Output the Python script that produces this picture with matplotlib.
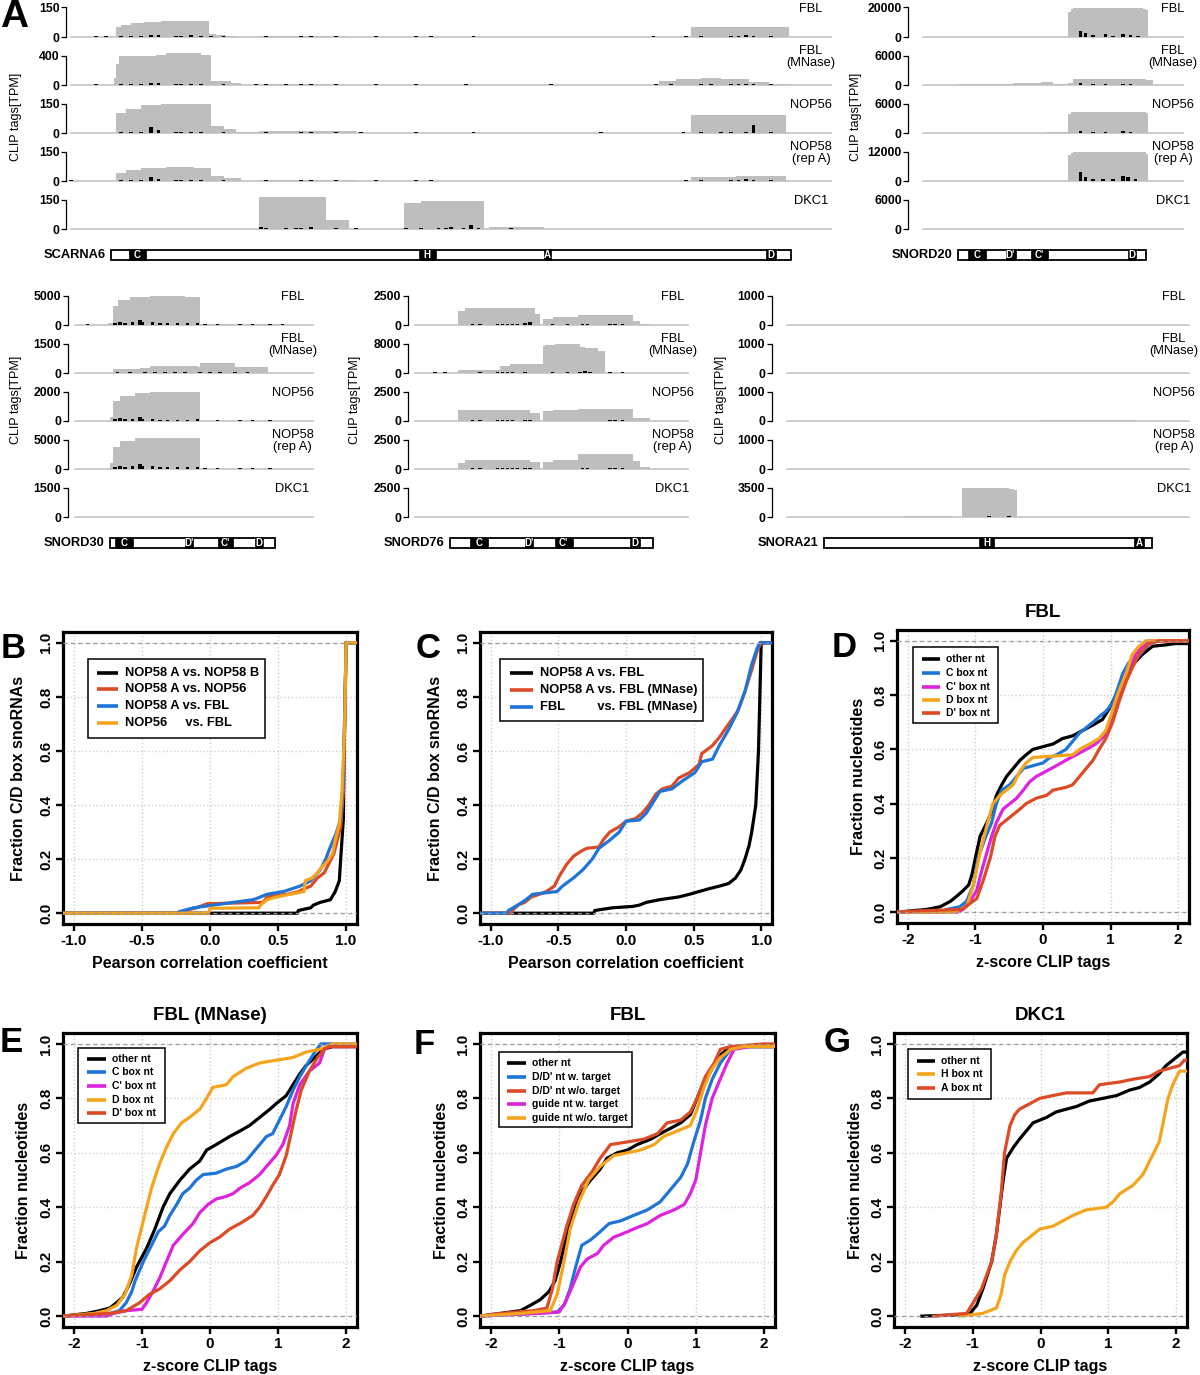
import matplotlib
matplotlib.use('Agg')
import matplotlib.pyplot as plt
from matplotlib.patches import Rectangle
from matplotlib.lines import Line2D

plt.rcParams['font.family'] = 'Liberation Sans'

W, H = 1200, 1375
fig = plt.figure(figsize=(W / 100, H / 100), dpi=100)

# ---------------------------------------------------------------------------
# Panel A data: coverage (step start positions in nt, height in TPM),
# crosslink sites (position, height) and snoRNA box annotation
# ---------------------------------------------------------------------------
track_names = ['FBL', 'FBL\n(MNase)', 'NOP56', 'NOP58\n(rep A)', 'DKC1']

# SCARNA6
s6_ticks = [150, 400, 150, 150, 150]
s6_cov_x = [
    [-16, 2, 4, 8, 13, 20, 39, 42, 46, 50, 59, 75, 94, 232, 240, 262, 271],
    [-16, 1, 2, 3, 18, 22, 36, 40, 48, 52, 58, 92, 219, 226, 236, 244, 255, 263, 272],
    [-16, 2, 6, 12, 20, 32, 40, 45, 50, 59, 98, 232, 270],
    [-16, 2, 6, 12, 22, 33, 40, 45, 52, 59, 98, 232, 250, 270],
    [-16, 59, 86, 95, 117, 124, 149, 151, 173],
]
s6_cov_y = [
    [0, 50, 62, 72, 77, 80, 15, 10, 5, 1, 5, 6, 0, 50, 53, 52, 0],
    [0, 100, 280, 390, 410, 440, 410, 55, 30, 5, 12, 0, 50, 80, 100, 80, 40, 10, 0],
    [0, 100, 120, 140, 150, 145, 35, 22, 4, 10, 0, 90, 0],
    [0, 42, 58, 68, 72, 65, 25, 15, 0, 3, 0, 22, 26, 0],
    [0, 165, 45, 0, 130, 142, 0, 8, 0],
]
s6_xl = [
    [(-6, 4), (-2, 4), (4, 5), (8, 5), (12, 6), (16, 10), (19, 9), (26, 5), (28, 5), (32, 8), (36, 5),
     (40, 4), (45, 4), (62, 5), (76, 4), (80, 4), (90, 4), (106, 3), (122, 3), (128, 3), (145, 3),
     (217, 4), (230, 4), (236, 4), (248, 5), (251, 5), (254, 8), (257, 5), (264, 4)],
    [(-6, 10), (4, 12), (8, 12), (12, 12), (16, 30), (19, 28), (26, 14), (28, 14), (32, 18), (36, 12),
     (45, 10), (58, 10), (62, 12), (70, 10), (76, 12), (80, 12), (90, 10), (106, 8), (122, 8), (142, 8),
     (176, 8), (218, 10), (224, 10), (236, 12), (240, 12), (248, 12), (251, 12), (254, 14), (257, 12), (264, 10)],
    [(4, 4), (8, 4), (12, 5), (16, 28), (19, 14), (26, 5), (28, 5), (32, 6), (36, 5), (45, 4), (62, 5),
     (76, 5), (80, 5), (90, 5), (100, 3), (122, 3), (145, 3), (196, 3), (229, 3), (236, 4), (244, 4),
     (248, 4), (254, 5), (257, 43), (264, 4)],
    [(-16, 3), (4, 4), (8, 4), (12, 5), (16, 22), (19, 12), (26, 5), (28, 5), (32, 6), (36, 5), (45, 4),
     (62, 4), (76, 4), (80, 4), (90, 4), (106, 3), (122, 3), (128, 3), (230, 3), (236, 4), (248, 4),
     (251, 4), (254, 8), (257, 5), (264, 4)],
    [(60, 8), (62, 6), (70, 5), (74, 6), (76, 6), (80, 8), (90, 5), (98, 5), (118, 5), (124, 6), (131, 7),
     (134, 7), (136, 8), (141, 6), (144, 20), (147, 5), (160, 4)],
]
s6_boxes = [(7, 14, 'C'), (123, 130, 'H'), (173, 176, 'A'), (262, 266, 'D')]

# SNORD20
d20_ticks = [20000, 6000, 6000, 12000, 6000]
d20_cov_x = [
    [-14, 44, 45, 46, 74, 75, 76],
    [-14, 0, 22, 33, 38, 44, 46, 75, 78],
    [-14, 15, 35, 44, 45, 75, 76],
    [-14, 44, 45, 46, 74, 75, 76],
    [-14, 89],
]
d20_cov_y = [
    [0, 17000, 19000, 19500, 19200, 18000, 0],
    [0, 280, 500, 700, 150, 500, 1200, 1000, 0],
    [0, 80, 120, 3800, 4300, 4100, 0],
    [0, 10500, 11500, 11800, 11600, 11000, 0],
    [0, 0],
]
d20_xl = [
    [(-3, 300), (5, 300), (9, 300), (16, 300), (20, 300), (28, 300), (33, 300), (38, 300), (49, 4000),
     (51, 2500), (54, 1200), (59, 2000), (62, 1000), (66, 1800), (69, 1300), (72, 800)],
    [(-3, 80), (5, 80), (9, 80), (16, 80), (20, 80), (28, 80), (33, 80), (38, 80), (49, 400), (54, 200),
     (59, 200), (66, 200), (69, 150)],
    [(-3, 60), (5, 60), (16, 60), (28, 60), (33, 60), (38, 60), (49, 400), (54, 200), (59, 200), (66, 350),
     (69, 200)],
    [(-3, 200), (5, 200), (9, 200), (16, 200), (20, 200), (28, 200), (33, 200), (38, 200), (49, 3700),
     (51, 1500), (54, 800), (58, 800), (62, 800), (66, 2000), (68, 1500), (71, 800)],
    [(30, 100)],
]
d20_boxes = [(4, 11, 'C'), (19, 23, "D'"), (29, 36, "C'"), (68, 71, 'D')]

# SNORD30
d30_ticks = [5000, 1500, 2000, 5000, 1500]
d30_cov_x = [
    [-14, -1, 1, 3, 8, 16, 30, 36, 60, 69],
    [-14, 1, 12, 16, 35, 36, 44, 50, 63],
    [-14, 0, 1, 4, 10, 16, 36],
    [-14, 0, 1, 4, 10, 16, 36],
    [-14, 81],
]
d30_cov_y = [
    [0, 300, 3300, 4200, 4700, 4900, 4800, 200, 150, 0],
    [0, 190, 250, 350, 300, 520, 500, 290, 0],
    [0, 300, 1350, 1700, 1900, 1950, 0],
    [0, 1000, 3800, 4800, 5200, 5300, 0],
    [0, 0],
]
d30_xl = [
    [(-9, 100), (2, 400), (4, 500), (6, 400), (9, 500), (12, 800), (13, 500), (17, 500), (20, 300),
     (23, 300), (27, 300), (31, 300), (35, 400), (38, 100), (43, 100), (52, 100), (57, 100), (64, 100), (69, 100)],
    [(-17, 20), (-4, 20), (3, 30), (8, 30), (14, 30), (18, 40), (22, 30), (26, 30), (30, 30), (36, 40),
     (40, 50), (44, 30), (50, 30), (55, 30), (60, 20)],
    [(2, 150), (4, 200), (6, 150), (9, 150), (12, 250), (13, 150), (17, 150), (20, 100), (23, 100),
     (27, 100), (31, 100), (35, 150), (43, 40), (52, 40), (57, 40), (64, 40)],
    [(2, 400), (4, 500), (6, 400), (9, 500), (12, 900), (13, 500), (17, 500), (20, 300), (23, 300),
     (27, 300), (31, 300), (35, 400), (38, 100), (43, 100), (52, 100), (57, 100), (64, 100)],
    [(9, 20), (13, 20), (18, 20), (29, 20)],
]
d30_boxes = [(2, 9, 'C'), (30, 33, "D'"), (43, 49, "C'"), (58, 61, 'D')]

# SNORD76
d76_ticks = [2500, 8000, 2500, 2500, 2500]
d76_cov_x = [
    [-14, 3, 6, 34, 36, 37, 41, 51, 73, 76, 80],
    [-14, 3, 20, 24, 37, 38, 42, 52, 54, 59, 62],
    [-14, 3, 32, 36, 37, 41, 51, 73, 80],
    [-14, 3, 6, 32, 36, 37, 41, 51, 73, 76, 80],
    [-14, 95],
]
d76_cov_y = [
    [0, 1150, 1400, 900, 0, 500, 700, 850, 300, 100, 0],
    [0, 900, 2000, 2500, 7200, 7700, 7800, 7000, 6800, 6000, 0],
    [0, 900, 700, 0, 850, 950, 1050, 250, 0],
    [0, 550, 800, 600, 0, 600, 750, 1250, 700, 200, 0],
    [0, 0],
]
d76_xl = [
    [(9, 60), (12, 60), (19, 80), (21, 80), (23, 80), (25, 80), (27, 80), (30, 150), (32, 250), (41, 50),
     (47, 50), (53, 60), (55, 60), (64, 60), (66, 80), (69, 60)],
    [(-6, 150), (-2, 150), (12, 200), (19, 250), (21, 250), (23, 250), (25, 250), (30, 250), (41, 250),
     (47, 250), (52, 400), (54, 500), (56, 400), (64, 200), (69, 200)],
    [(9, 50), (12, 50), (19, 60), (21, 60), (23, 60), (25, 60), (30, 60), (32, 80), (41, 40), (47, 40),
     (53, 40), (55, 40), (64, 50), (66, 60), (69, 50), (78, 30)],
    [(-4, 30), (9, 50), (12, 50), (19, 80), (21, 80), (23, 80), (25, 80), (27, 80), (30, 100), (32, 120),
     (41, 40), (47, 40), (53, 60), (55, 60), (64, 80), (66, 120), (69, 80), (79, 30)],
    [],
]
d76_boxes = [(8, 15, 'C'), (30, 33, "D'"), (42, 49, "C'"), (72, 76, 'D')]

# SNORA21
a21_ticks = [1000, 1000, 1000, 1000, 3500]
a21_cov_x = [
    [-15, 88, 124],
    [-15, 50, 75, 146],
    [-15, 86, 125],
    [-15, 146],
    [-15, -8, 14, 32, 51, 55, 74, 76, 77],
]
a21_cov_y = [
    [0, 8, 0],
    [0, 10, 0, 0],
    [0, 35, 0],
    [0, 0],
    [0, 40, 0, 60, 0, 3450, 3350, 3200, 0],
]
a21_xl = [
    [(40, 8), (90, 8), (98, 8), (106, 8), (110, 8), (114, 8), (122, 8)],
    [(8, 12), (17, 12), (20, 12), (26, 12), (29, 12), (32, 12), (34, 12), (37, 12), (41, 12), (43, 12),
     (50, 12), (66, 12), (74, 12), (79, 12), (81, 12), (85, 12), (90, 12), (97, 12), (101, 12), (105, 12),
     (109, 12), (118, 12), (122, 12)],
    [(5, 12), (74, 12), (80, 12), (90, 12), (97, 12), (101, 12), (105, 12), (109, 12), (113, 12), (118, 12),
     (124, 12)],
    [(21, 12), (33, 12), (41, 12), (50, 12), (66, 12), (80, 12), (98, 12), (102, 12), (106, 12), (121, 12),
     (123, 12)],
    [(-1, 40), (7, 40), (8, 40), (36, 40), (41, 40), (43, 40), (50, 40), (66, 110), (74, 60), (78, 40),
     (114, 40), (118, 40)],
]
a21_boxes = [(62, 68, 'H'), (124, 128, 'A')]

# ---------------------------------------------------------------------------
# Panels B-G data: cumulative distributions (x, fraction)
# ---------------------------------------------------------------------------
b_a_vs_b = [(-1.08, 0), (0.64, 0), (0.65, 0.01), (0.74, 0.02), (0.76, 0.03), (0.81, 0.04), (0.885, 0.05),
            (0.92, 0.08), (0.95, 0.12), (0.96, 0.2), (0.98, 0.35), (0.985, 0.6), (0.993, 0.8), (1.0, 1.0), (1.08, 1.0)]
b_a_vs_56 = [(-1.08, 0), (-0.19, 0), (-0.18, 0.01), (-0.1, 0.02), (-0.02, 0.035), (0.39, 0.04), (0.42, 0.06),
             (0.47, 0.065), (0.57, 0.07), (0.65, 0.08), (0.69, 0.09), (0.74, 0.1), (0.79, 0.13), (0.84, 0.15),
             (0.87, 0.18), (0.91, 0.22), (0.935, 0.27), (0.96, 0.32), (0.98, 0.45), (0.99, 0.7), (1.0, 1.0), (1.08, 1.0)]
b_a_vs_fbl = [(-1.08, 0), (-0.24, 0), (-0.23, 0.005), (-0.12, 0.02), (0.03, 0.03), (0.17, 0.04), (0.32, 0.05),
              (0.42, 0.07), (0.54, 0.08), (0.66, 0.1), (0.74, 0.12), (0.81, 0.16), (0.85, 0.2), (0.88, 0.24),
              (0.93, 0.3), (0.96, 0.35), (0.98, 0.5), (0.99, 0.75), (1.0, 1.0), (1.08, 1.0)]
b_56_vs_fbl = [(-1.08, 0), (-0.01, 0), (0.0, 0.018), (0.36, 0.02), (0.37, 0.03), (0.42, 0.05), (0.49, 0.06),
               (0.59, 0.07), (0.69, 0.08), (0.7, 0.12), (0.75, 0.13), (0.79, 0.15), (0.82, 0.17), (0.86, 0.19),
               (0.9, 0.22), (0.92, 0.27), (0.95, 0.33), (0.97, 0.45), (0.99, 0.7), (1.0, 1.0), (1.08, 1.0)]

c_a_vs_fbl = [(-1.08, 0), (-0.24, 0), (-0.23, 0.01), (-0.1, 0.02), (0.05, 0.025), (0.1, 0.03), (0.15, 0.04),
              (0.25, 0.05), (0.39, 0.06), (0.47, 0.07), (0.54, 0.08), (0.61, 0.09), (0.69, 0.1), (0.76, 0.11),
              (0.81, 0.13), (0.85, 0.16), (0.88, 0.2), (0.91, 0.25), (0.93, 0.3), (0.96, 0.4), (0.98, 0.6),
              (0.99, 0.8), (1.0, 1.0), (1.08, 1.0)]
c_a_vs_mn = [(-1.08, 0), (-0.85, 0), (-0.84, 0.01), (-0.8, 0.03), (-0.75, 0.04), (-0.7, 0.06), (-0.64, 0.07),
             (-0.59, 0.08), (-0.53, 0.1), (-0.49, 0.14), (-0.44, 0.18), (-0.39, 0.21), (-0.33, 0.23),
             (-0.29, 0.24), (-0.2, 0.245), (-0.17, 0.27), (-0.12, 0.3), (-0.05, 0.32), (0.0, 0.34), (0.07, 0.35),
             (0.12, 0.37), (0.17, 0.4), (0.22, 0.44), (0.27, 0.46), (0.34, 0.47), (0.39, 0.5), (0.47, 0.52),
             (0.54, 0.55), (0.56, 0.59), (0.64, 0.62), (0.69, 0.65), (0.76, 0.7), (0.83, 0.75), (0.88, 0.82),
             (0.93, 0.9), (0.97, 0.97), (1.0, 1.0), (1.08, 1.0)]
c_fbl_vs_mn = [(-1.08, 0), (-0.88, 0), (-0.87, 0.01), (-0.8, 0.03), (-0.74, 0.05), (-0.69, 0.07), (-0.51, 0.08),
               (-0.47, 0.1), (-0.39, 0.13), (-0.32, 0.16), (-0.25, 0.2), (-0.2, 0.24), (-0.12, 0.27),
               (-0.05, 0.3), (0.0, 0.34), (0.1, 0.345), (0.15, 0.37), (0.2, 0.41), (0.25, 0.45), (0.34, 0.46),
               (0.42, 0.49), (0.51, 0.52), (0.56, 0.56), (0.64, 0.57), (0.69, 0.62), (0.76, 0.68), (0.82, 0.74),
               (0.88, 0.82), (0.93, 0.92), (0.97, 0.98), (0.99, 1.0), (1.08, 1.0)]

d_other = [(-2.16, 0), (-1.72, 0.01), (-1.52, 0.02), (-1.37, 0.04), (-1.27, 0.06), (-1.18, 0.08), (-1.1, 0.1),
           (-1.05, 0.14), (-1.0, 0.2), (-0.93, 0.28), (-0.83, 0.33), (-0.76, 0.37), (-0.69, 0.43), (-0.61, 0.47),
           (-0.54, 0.5), (-0.44, 0.53), (-0.34, 0.56), (-0.25, 0.58), (-0.15, 0.6), (0.0, 0.61), (0.15, 0.62),
           (0.29, 0.64), (0.44, 0.65), (0.59, 0.67), (0.74, 0.69), (0.88, 0.71), (0.98, 0.75), (1.08, 0.8),
           (1.23, 0.86), (1.32, 0.91), (1.47, 0.95), (1.62, 0.98), (1.81, 0.985), (1.96, 0.99), (2.16, 0.99)]
d_cbox = [(-2.16, 0), (-1.52, 0), (-1.42, 0.01), (-1.23, 0.02), (-1.13, 0.04), (-1.03, 0.1), (-0.96, 0.2),
          (-0.86, 0.27), (-0.76, 0.33), (-0.69, 0.4), (-0.61, 0.45), (-0.49, 0.47), (-0.39, 0.5), (-0.29, 0.53),
          (0.0, 0.55), (0.1, 0.57), (0.2, 0.58), (0.34, 0.6), (0.44, 0.63), (0.54, 0.66), (0.64, 0.68),
          (0.74, 0.7), (0.83, 0.72), (0.93, 0.74), (1.03, 0.77), (1.1, 0.82), (1.18, 0.88), (1.27, 0.92),
          (1.37, 0.93), (1.47, 0.96), (1.57, 0.99), (1.72, 1.0), (2.16, 1.0)]
d_cpbox = [(-2.16, 0), (-1.27, 0), (-1.18, 0.01), (-1.08, 0.04), (-0.98, 0.08), (-0.91, 0.15), (-0.83, 0.22),
           (-0.76, 0.28), (-0.69, 0.33), (-0.59, 0.38), (-0.49, 0.4), (-0.39, 0.42), (-0.29, 0.45), (-0.2, 0.48),
           (-0.1, 0.5), (0.05, 0.52), (0.2, 0.54), (0.34, 0.56), (0.49, 0.58), (0.64, 0.6), (0.78, 0.62),
           (0.91, 0.65), (1.0, 0.7), (1.1, 0.77), (1.2, 0.84), (1.27, 0.9), (1.37, 0.95), (1.47, 0.98),
           (1.57, 1.0), (2.16, 1.0)]
d_dbox = [(-2.16, 0), (-1.32, 0), (-1.23, 0.01), (-1.13, 0.02), (-1.03, 0.1), (-0.93, 0.22), (-0.83, 0.32),
          (-0.74, 0.4), (-0.64, 0.43), (-0.44, 0.47), (-0.34, 0.52), (-0.25, 0.55), (-0.15, 0.57), (0.44, 0.58),
          (0.54, 0.6), (0.69, 0.62), (0.83, 0.64), (0.93, 0.67), (1.0, 0.72), (1.1, 0.8), (1.23, 0.88),
          (1.32, 0.95), (1.42, 0.98), (1.52, 1.0), (2.16, 1.0)]
d_dpbox = [(-2.16, 0), (-1.8, 0.005), (-1.2, 0.01), (-0.98, 0.05), (-0.88, 0.12), (-0.78, 0.2), (-0.71, 0.28),
           (-0.64, 0.32), (-0.54, 0.34), (-0.44, 0.36), (-0.34, 0.38), (-0.25, 0.4), (-0.1, 0.42), (0.05, 0.43),
           (0.15, 0.45), (0.34, 0.46), (0.44, 0.47), (0.54, 0.5), (0.64, 0.53), (0.74, 0.56), (0.83, 0.6),
           (0.93, 0.64), (1.03, 0.7), (1.13, 0.78), (1.23, 0.85), (1.32, 0.9), (1.42, 0.95), (1.57, 0.99),
           (1.72, 1.0), (2.16, 1.0)]

e_other = [(-2.16, 0), (-1.81, 0.01), (-1.62, 0.02), (-1.47, 0.03), (-1.37, 0.05), (-1.28, 0.07), (-1.18, 0.12),
           (-1.08, 0.18), (-0.93, 0.25), (-0.81, 0.32), (-0.69, 0.4), (-0.59, 0.45), (-0.44, 0.5), (-0.3, 0.54),
           (-0.15, 0.57), (-0.05, 0.61), (0.09, 0.63), (0.29, 0.66), (0.44, 0.68), (0.58, 0.7), (0.73, 0.73),
           (0.88, 0.76), (0.97, 0.78), (1.12, 0.81), (1.22, 0.85), (1.32, 0.89), (1.41, 0.92), (1.54, 0.95),
           (1.66, 0.98), (1.8, 0.99), (2.16, 0.99)]
e_cbox = [(-2.16, 0), (-1.47, 0.01), (-1.33, 0.02), (-1.23, 0.05), (-1.15, 0.09), (-1.1, 0.13), (-0.98, 0.2),
          (-0.86, 0.26), (-0.76, 0.31), (-0.67, 0.33), (-0.59, 0.37), (-0.49, 0.41), (-0.4, 0.45), (-0.3, 0.47),
          (-0.2, 0.5), (-0.1, 0.52), (0.09, 0.525), (0.24, 0.54), (0.39, 0.55), (0.53, 0.57), (0.63, 0.6),
          (0.73, 0.63), (0.83, 0.66), (0.92, 0.67), (1.02, 0.72), (1.12, 0.77), (1.22, 0.83), (1.32, 0.88),
          (1.44, 0.93), (1.54, 0.97), (1.63, 1.0), (2.16, 1.0)]
e_cpbox = [(-2.16, 0), (-1.52, 0), (-1.42, 0.01), (-1.23, 0.02), (-1.0, 0.025), (-0.93, 0.05), (-0.84, 0.09),
           (-0.74, 0.14), (-0.64, 0.2), (-0.54, 0.26), (-0.4, 0.3), (-0.25, 0.34), (-0.15, 0.38), (-0.03, 0.41),
           (0.09, 0.43), (0.24, 0.44), (0.34, 0.45), (0.44, 0.47), (0.58, 0.49), (0.73, 0.52), (0.83, 0.55),
           (0.97, 0.59), (1.07, 0.63), (1.17, 0.7), (1.22, 0.78), (1.32, 0.85), (1.46, 0.9), (1.61, 0.93),
           (1.68, 0.98), (1.75, 0.99), (2.16, 0.99)]
e_dbox = [(-2.16, 0), (-1.7, 0.01), (-1.52, 0.02), (-1.37, 0.04), (-1.25, 0.08), (-1.15, 0.15), (-1.08, 0.25),
          (-0.98, 0.35), (-0.86, 0.47), (-0.74, 0.56), (-0.64, 0.62), (-0.54, 0.67), (-0.42, 0.71), (-0.3, 0.73),
          (-0.15, 0.76), (-0.05, 0.8), (0.04, 0.84), (0.24, 0.85), (0.34, 0.88), (0.53, 0.91), (0.73, 0.93),
          (0.97, 0.94), (1.22, 0.95), (1.41, 0.97), (1.61, 0.98), (1.8, 1.0), (2.16, 1.0)]
e_dpbox = [(-2.16, 0), (-1.47, 0.01), (-1.23, 0.02), (-1.03, 0.05), (-0.89, 0.08), (-0.74, 0.1), (-0.59, 0.13),
           (-0.44, 0.17), (-0.3, 0.2), (-0.15, 0.24), (0.0, 0.27), (0.14, 0.29), (0.29, 0.32), (0.44, 0.34),
           (0.63, 0.37), (0.73, 0.4), (0.83, 0.44), (0.92, 0.48), (1.02, 0.52), (1.12, 0.59), (1.19, 0.67),
           (1.26, 0.75), (1.34, 0.83), (1.46, 0.9), (1.58, 0.95), (1.68, 0.98), (1.75, 0.99), (2.16, 0.99)]

f_other = [(-2.16, 0), (-1.86, 0.01), (-1.57, 0.02), (-1.42, 0.04), (-1.28, 0.06), (-1.15, 0.09), (-1.06, 0.13),
           (-0.98, 0.2), (-0.89, 0.3), (-0.79, 0.38), (-0.69, 0.45), (-0.54, 0.5), (-0.4, 0.54), (-0.3, 0.58),
           (-0.15, 0.6), (0.0, 0.61), (0.14, 0.63), (0.34, 0.65), (0.48, 0.67), (0.63, 0.69), (0.78, 0.71),
           (0.92, 0.74), (1.02, 0.8), (1.12, 0.86), (1.22, 0.9), (1.32, 0.95), (1.46, 0.98), (1.71, 0.99), (2.16, 0.99)]
f_dd_w = [(-2.16, 0), (-1.37, 0.01), (-1.03, 0.015), (-0.93, 0.04), (-0.84, 0.1), (-0.76, 0.18), (-0.67, 0.26),
          (-0.54, 0.28), (-0.4, 0.31), (-0.27, 0.34), (-0.1, 0.35), (0.09, 0.37), (0.29, 0.39), (0.48, 0.42),
          (0.58, 0.45), (0.68, 0.48), (0.78, 0.51), (0.88, 0.56), (0.97, 0.64), (1.07, 0.72), (1.14, 0.8),
          (1.24, 0.87), (1.36, 0.93), (1.51, 0.98), (1.7, 0.99), (2.16, 0.99)]
f_dd_wo = [(-2.16, 0), (-1.86, 0.01), (-1.37, 0.02), (-1.18, 0.03), (-1.1, 0.1), (-1.03, 0.2), (-0.89, 0.33),
           (-0.79, 0.41), (-0.67, 0.48), (-0.52, 0.53), (-0.4, 0.58), (-0.25, 0.63), (0.0, 0.64), (0.24, 0.65),
           (0.44, 0.67), (0.58, 0.71), (0.78, 0.72), (0.92, 0.75), (1.02, 0.8), (1.14, 0.88), (1.27, 0.93),
           (1.36, 0.98), (1.51, 0.99), (1.99, 1.0), (2.16, 1.0)]
f_guide_w = [(-2.16, 0), (-1.32, 0.01), (-1.0, 0.015), (-0.91, 0.05), (-0.79, 0.12), (-0.69, 0.18), (-0.59, 0.21),
             (-0.44, 0.23), (-0.35, 0.26), (-0.2, 0.29), (0.0, 0.31), (0.09, 0.32), (0.29, 0.34), (0.48, 0.37),
             (0.68, 0.39), (0.83, 0.41), (0.92, 0.45), (1.0, 0.5), (1.07, 0.6), (1.14, 0.7), (1.24, 0.8),
             (1.34, 0.86), (1.46, 0.93), (1.56, 0.98), (1.8, 0.99), (2.16, 0.99)]
f_guide_wo = [(-2.16, 0), (-1.57, 0.01), (-1.13, 0.02), (-1.03, 0.08), (-0.93, 0.2), (-0.84, 0.32), (-0.71, 0.42),
              (-0.57, 0.5), (-0.4, 0.55), (-0.2, 0.59), (0.0, 0.6), (0.19, 0.61), (0.39, 0.63), (0.53, 0.66),
              (0.73, 0.68), (0.92, 0.7), (1.02, 0.76), (1.12, 0.84), (1.22, 0.9), (1.36, 0.95), (1.51, 0.98),
              (1.7, 0.99), (2.16, 0.99)]

g_other = [(-1.75, 0), (-1.14, 0.005), (-1.04, 0.01), (-0.94, 0.04), (-0.85, 0.1), (-0.72, 0.2), (-0.65, 0.3),
           (-0.6, 0.4), (-0.55, 0.5), (-0.5, 0.58), (-0.4, 0.62), (-0.31, 0.65), (-0.21, 0.68), (-0.11, 0.71),
           (-0.01, 0.72), (0.09, 0.73), (0.23, 0.75), (0.38, 0.76), (0.53, 0.77), (0.72, 0.79), (0.92, 0.8),
           (1.12, 0.81), (1.31, 0.83), (1.46, 0.84), (1.61, 0.86), (1.75, 0.89), (1.85, 0.92), (2.0, 0.95),
           (2.1, 0.97), (2.16, 0.97)]
g_hbox = [(-1.19, 0), (-0.85, 0.01), (-0.65, 0.03), (-0.58, 0.08), (-0.53, 0.15), (-0.45, 0.2), (-0.36, 0.24),
          (-0.26, 0.27), (-0.11, 0.3), (-0.01, 0.32), (0.18, 0.33), (0.33, 0.35), (0.48, 0.37), (0.67, 0.39),
          (0.97, 0.4), (1.07, 0.42), (1.17, 0.45), (1.36, 0.48), (1.51, 0.52), (1.61, 0.57), (1.75, 0.64),
          (1.8, 0.7), (1.88, 0.8), (1.95, 0.85), (2.05, 0.9), (2.16, 0.9)]
g_abox = [(-1.58, 0), (-1.09, 0.01), (-0.99, 0.05), (-0.87, 0.1), (-0.72, 0.2), (-0.65, 0.3), (-0.58, 0.45),
          (-0.53, 0.6), (-0.45, 0.7), (-0.38, 0.74), (-0.31, 0.76), (-0.16, 0.78), (-0.01, 0.8), (0.18, 0.81),
          (0.38, 0.82), (0.77, 0.82), (0.87, 0.85), (1.17, 0.86), (1.36, 0.87), (1.61, 0.88), (1.75, 0.9),
          (1.9, 0.91), (2.05, 0.92), (2.12, 0.94), (2.16, 0.94)]

BLACK = '#000000'
RED = '#DC4A26'
BLUE = '#1F74D8'
ORANGE = '#F5A51C'
MAGENTA = '#DE22DE'
GREY_FILL = '#BEBEBE'

PX_PER_NT = 2.5
TRACK_STEP = 48
TRACK_H = 32


def add_px_axes(x0, y0, x1, y1):
    return fig.add_axes([x0 / W, 1 - y1 / H, (x1 - x0) / W, (y1 - y0) / H])


def draw_group(name, gene_px, zero0, xlim, trange, label_nt, ticks, cov_x, cov_y, xls,
               boxes, gene_len, bar_y, ylab_xy):
    x0 = gene_px + xlim[0] * PX_PER_NT
    x1 = gene_px + xlim[1] * PX_PER_NT
    for i in range(5):
        zero = zero0 + TRACK_STEP * i
        ax = add_px_axes(x0, zero - TRACK_H, x1, zero)
        # ylim so that the top tick sits a few px below the track top
        top = ticks[i] * TRACK_H / 29.5
        ax.set_xlim(xlim)
        ax.set_ylim(0, top)
        ax.patch.set_visible(False)
        ax.plot(trange, [0, 0], color='#C8C8C8', lw=1.3, zorder=1, clip_on=False)
        ax.fill_between(cov_x[i], cov_y[i], step='post', color=GREY_FILL, lw=0, zorder=2, clip_on=False)
        if xls[i]:
            pos, h = zip(*xls[i])
            ax.bar(pos, h, width=1.3, color='black', zorder=3, clip_on=False)
        for s in ['top', 'right', 'bottom']:
            ax.spines[s].set_visible(False)
        ax.spines['left'].set_bounds(0, ticks[i])
        ax.spines['left'].set_linewidth(0.9)
        ax.set_xticks([])
        ax.set_yticks([0, ticks[i]])
        ax.set_yticklabels(['0', str(ticks[i])], fontsize=8.8, fontweight='bold')
        ax.tick_params(axis='y', length=3.5, width=0.9, pad=1)
        ax.text(label_nt, 0.875, track_names[i], transform=ax.get_xaxis_transform(),
                ha='center', va='center', fontsize=9.3, linespacing=0.95, multialignment='center')
    # snoRNA annotation bar
    gax = add_px_axes(x0, bar_y[0], x1, bar_y[1])
    gax.set_xlim(xlim)
    gax.set_ylim(0, 1)
    gax.axis('off')
    gax.add_patch(Rectangle((0, 0), gene_len, 1, fc='white', ec='black', lw=1.3, clip_on=False))
    for b0, b1, lab in boxes:
        gax.add_patch(Rectangle((b0, 0), b1 - b0, 1, fc='black', ec='black', lw=0.5, clip_on=False))
        gax.text((b0 + b1) / 2, 0.45, lab, ha='center', va='center', color='white',
                 fontsize=7, fontweight='bold')
    gax.text(-2.2, 0.5, name, ha='right', va='center', fontsize=9.3, fontweight='bold')
    fig.text(ylab_xy[0] / W, 1 - ylab_xy[1] / H, 'CLIP tags[TPM]', rotation=90,
             ha='center', va='center', fontsize=9)


draw_group('SCARNA6', 111, 37, (-18, 288), (-16, 288), 280, s6_ticks, s6_cov_x, s6_cov_y, s6_xl,
           s6_boxes, 272, (250, 260), (16, 117))
draw_group('SNORD20', 958, 37, (-20, 90), (-14, 90), 86, d20_ticks, d20_cov_x, d20_cov_y, d20_xl,
           d20_boxes, 75, (250, 260), (856, 117))
draw_group('SNORD30', 110, 325, (-17, 81), (-14, 81), 73, d30_ticks, d30_cov_x, d30_cov_y, d30_xl,
           d30_boxes, 66, (538, 548), (16, 400))
draw_group('SNORD76', 450, 325, (-17, 95), (-14, 95), 89, d76_ticks, d76_cov_x, d76_cov_y, d76_xl,
           d76_boxes, 81, (538, 548), (355, 400))
draw_group('SNORA21', 824, 325, (-21, 146), (-15, 146), 140, a21_ticks, a21_cov_x, a21_cov_y, a21_xl,
           a21_boxes, 131, (538, 548), (721, 400))


# ---------------------------------------------------------------------------
# cumulative distribution panels
# ---------------------------------------------------------------------------
def cdf_panel(box, xlim, xticks, xticklabels, xlabel, ylabel, ylab_dx, title=None):
    ax = add_px_axes(*box)
    bw, bh = box[2] - box[0], box[3] - box[1]
    ax.set_xlim(xlim)
    ax.set_ylim(-0.04, 1.04)
    ax.set_xticks(xticks)
    ax.set_xticklabels(xticklabels, fontsize=11, fontweight='bold')
    ax.set_yticks([0, 0.2, 0.4, 0.6, 0.8, 1.0])
    ax.set_yticklabels(['0.0', '0.2', '0.4', '0.6', '0.8', '1.0'], rotation=90, va='center',
                       fontsize=11, fontweight='bold')
    ax.tick_params(direction='out', length=5, width=1.7, pad=2)
    for s in ax.spines.values():
        s.set_linewidth(2.3)
    ax.grid(True, color='#CFCFCF', ls=':', lw=1)
    ax.set_axisbelow(True)
    for yy in (0, 1):
        ax.axhline(yy, color='#9A9A9A', ls=(0, (3, 3)), lw=0.9, zorder=5)
    ax.text(0.5, -39 / bh, xlabel, transform=ax.transAxes, ha='center', va='center',
            fontsize=11.5, fontweight='bold')
    ax.text(-ylab_dx / bw, 0.5, ylabel, transform=ax.transAxes, rotation=90, ha='center',
            va='center', fontsize=11.5, fontweight='bold')
    if title:
        ax.text(0.5, 1 + 17 / bh, title, transform=ax.transAxes, ha='center', va='center',
                fontsize=13.5, fontweight='bold')
    return ax


def curve(ax, pts, color):
    xs, ys = zip(*pts)
    ax.plot(xs, ys, color=color, lw=2.3, zorder=3, solid_joinstyle='miter')


def legend_px(box, line_x, text_x, ys, labels, colors, fs):
    x0, y0, x1, y1 = box
    fig.add_artist(Rectangle((x0 / W, 1 - y1 / H), (x1 - x0) / W, (y1 - y0) / H,
                             transform=fig.transFigure, fc='white', ec='black', lw=1.1, zorder=20))
    for y, lab, c in zip(ys, labels, colors):
        fig.add_artist(Line2D([line_x[0] / W, line_x[1] / W], [1 - y / H, 1 - y / H],
                              transform=fig.transFigure, color=c, lw=2.6, zorder=21,
                              solid_capstyle='butt'))
        fig.text(text_x / W, 1 - y / H, lab, ha='left', va='center', fontsize=fs,
                 fontweight='bold', zorder=22)


r_ticks = [-1.0, -0.5, 0.0, 0.5, 1.0]
r_labels = ['-1.0', '-0.5', '0.0', '0.5', '1.0']
z_ticks = [-2, -1, 0, 1, 2]
z_labels = ['-2', '-1', '0', '1', '2']

# B
ax = cdf_panel((63, 632, 357, 924), (-1.08, 1.08), r_ticks, r_labels,
               'Pearson correlation coefficient', 'Fraction C/D box snoRNAs', 44)
for pts, c in [(b_a_vs_b, BLACK), (b_a_vs_56, RED), (b_a_vs_fbl, BLUE), (b_56_vs_fbl, ORANGE)]:
    curve(ax, pts, c)
legend_px((88, 659, 265, 738), (97, 118), 125, [672.7, 689.3, 706, 723.3],
          ['NOP58 A vs. NOP58 B', 'NOP58 A vs. NOP56', 'NOP58 A vs. FBL', 'NOP56     vs. FBL'],
          [BLACK, RED, BLUE, ORANGE], 9.3)

# C
ax = cdf_panel((480, 632, 772, 924), (-1.08, 1.08), r_ticks, r_labels,
               'Pearson correlation coefficient', 'Fraction C/D box snoRNAs', 44)
for pts, c in [(c_a_vs_fbl, BLACK), (c_a_vs_mn, RED), (c_fbl_vs_mn, BLUE)]:
    curve(ax, pts, c)
legend_px((500, 659, 703, 721), (510, 533), 540, [672.7, 690, 706.7],
          ['NOP58 A vs. FBL', 'NOP58 A vs. FBL (MNase)', 'FBL         vs. FBL (MNase)'],
          [BLACK, RED, BLUE], 9.3)

box_labels = ['other nt', 'C box nt', "C' box nt", 'D box nt', "D' box nt"]
box_colors = [BLACK, BLUE, MAGENTA, ORANGE, RED]

# D
ax = cdf_panel((897, 630, 1189, 923), (-2.16, 2.16), z_ticks, z_labels,
               'z-score CLIP tags', 'Fraction nucleotides', 39, 'FBL')
for pts, c in zip([d_other, d_cbox, d_cpbox, d_dbox, d_dpbox], box_colors):
    curve(ax, pts, c)
legend_px((913, 647, 998, 723), (921.7, 940), 946, [659.3, 672.7, 686.7, 700, 713.3],
          box_labels, box_colors, 7.5)

# E
ax = cdf_panel((63, 1033, 357, 1327), (-2.16, 2.16), z_ticks, z_labels,
               'z-score CLIP tags', 'Fraction nucleotides', 39, 'FBL (MNase)')
for pts, c in zip([e_other, e_cbox, e_cpbox, e_dbox, e_dpbox], box_colors):
    curve(ax, pts, c)
legend_px((78, 1048, 165, 1123), (87, 106), 111.7, [1059, 1072.3, 1086, 1100, 1113.3],
          box_labels, box_colors, 7.5)

# F
ax = cdf_panel((480, 1033, 775, 1327), (-2.16, 2.16), z_ticks, z_labels,
               'z-score CLIP tags', 'Fraction nucleotides', 39, 'FBL')
f_colors = [BLACK, BLUE, RED, MAGENTA, ORANGE]
for pts, c in zip([f_other, f_dd_w, f_dd_wo, f_guide_w, f_guide_wo], f_colors):
    curve(ax, pts, c)
legend_px((499, 1052, 632, 1127), (506.7, 526), 531.7, [1063.3, 1077, 1090.7, 1104.3, 1118.3],
          ['other nt', "D/D' nt w. target", "D/D' nt w/o. target", 'guide nt w. target',
           'guide nt w/o. target'], f_colors, 7.5)

# G
ax = cdf_panel((894, 1033, 1187, 1327), (-2.16, 2.16), z_ticks, z_labels,
               'z-score CLIP tags', 'Fraction nucleotides', 39, 'DKC1')
g_colors = [BLACK, ORANGE, RED]
for pts, c in zip([g_other, g_hbox, g_abox], g_colors):
    curve(ax, pts, c)
legend_px((908, 1049, 991, 1099), (916.7, 935), 940.7, [1060.7, 1074, 1087.7],
          ['other nt', 'H box nt', 'A box nt'], g_colors, 7.5)

# panel letters
for lab, x, y, fs in [('A', 0, 17, 28), ('B', 1, 648, 25), ('C', 416, 648, 25), ('D', 832, 647, 25),
                      ('E', 0, 1043, 25), ('F', 414, 1045, 25), ('G', 824, 1043, 25)]:
    fig.text(x / W, 1 - y / H, lab, ha='left', va='center', fontsize=fs, fontweight='bold')

fig.savefig('out.png', dpi=100)
